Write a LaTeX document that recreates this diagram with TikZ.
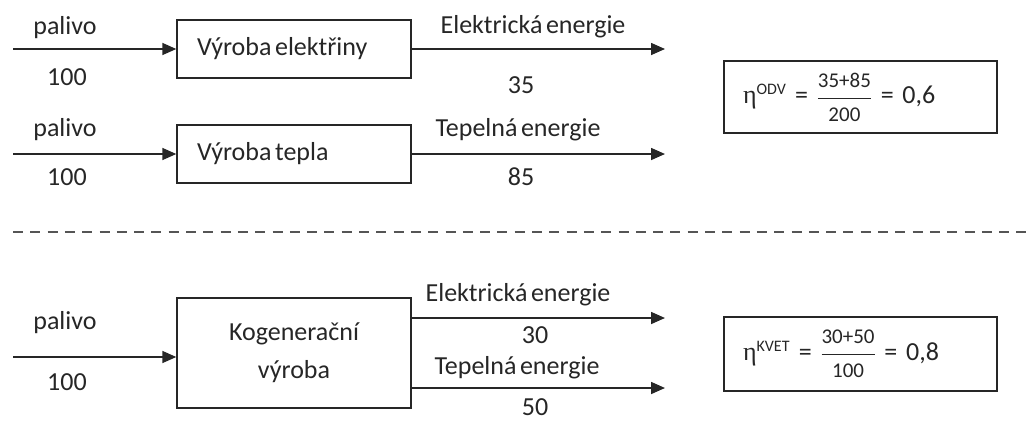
\documentclass[tikz,border=0pt]{standalone}
\usepackage{fontspec}
\setmainfont{Carlito}[WordSpace=0.6]
\newfontfamily\grkfont{Liberation Serif}
\usetikzlibrary{arrows.meta}
\definecolor{ink}{HTML}{262626}
\definecolor{sep}{HTML}{555555}
\newcommand\basefont{\fontsize{26}{30}\selectfont}
% box caption, lifted slightly and set with the font's own word space
\newcommand\boxcaption[1]{\raisebox{3pt}{\spaceskip=0pt\xspaceskip=0pt\relax #1}}
\tikzset{
  every node/.style={text=ink, font=\basefont},
  procbox/.style={draw=ink, line width=1.4pt, minimum width=234pt, inner sep=0pt},
  leftbox/.style={procbox, text width=194pt, align=left, inner xsep=20pt},
  eqbox/.style={draw=ink, line width=1.4pt, minimum width=273pt, minimum height=72pt,
                text width=235pt, align=left, inner xsep=19pt, inner ysep=0pt},
  flow/.style={draw=ink, line width=1.6pt, -{Triangle[length=14pt,width=12pt]}},
  lbl/.style={inner sep=0pt},
}
\newcommand\smallnum{\fontsize{21}{24}\selectfont}
\newcommand\supfont{\fontsize{16}{18}\selectfont}
\newcommand\effrac[2]{$\displaystyle\frac{\mbox{\smallnum #1}}{\mbox{\smallnum #2}}$}
\begin{document}
\begin{tikzpicture}[x=1pt, y=-1pt]
  \useasboundingbox (0,0) rectangle (1031,421);

  % separate production: electricity
  \node[leftbox, minimum height=58pt] (be) at (294,49) {\boxcaption{Výroba elektřiny}};
  \coordinate (ina) at (13,49);
  \coordinate (outa) at (665,49);
  \draw[flow] (ina) -- (be.west);
  \draw[flow] (be.east) -- (outa);
  \node[lbl] (pa) at (65,28) {palivo};
  \node[lbl] (na) at (67,77) {100};
  \node[lbl] (ea) at (533,27) {Elektrická energie};
  \node[lbl] (va) at (521,85) {35};

  % separate production: heat
  \node[leftbox, minimum height=58pt] (bt) at (294,154) {\boxcaption{Výroba tepla}};
  \coordinate (inb) at (13,154);
  \coordinate (outb) at (665,154);
  \draw[flow] (inb) -- (bt.west);
  \draw[flow] (bt.east) -- (outb);
  \node[lbl] (pb) at (65,130) {palivo};
  \node[lbl] (nb) at (67,177) {100};
  \node[lbl] (tb) at (518,130) {Tepelná energie};
  \node[lbl] (vb) at (521,177) {85};

  % efficiency of separate production
  \node[eqbox] (eq1) at (860.5,97)
    {{\grkfont η}\textsuperscript{\supfont ODV} = \effrac{35+85}{200} = 0,6};

  % separator
  \draw[sep, line width=2.4pt, dash pattern=on 10pt off 7.3pt] (13,232) -- (1031,232);

  % cogeneration
  \node[procbox, minimum height=110pt] (kv) at (294,353)
    {\raisebox{20pt}{\parbox{200pt}{\centering\fontsize{26}{38}\selectfont Kogenerační\\ výroba}}};
  \coordinate (inc) at (13,357);
  \coordinate (outc) at (665,318);
  \coordinate (outd) at (665,388);
  \draw[flow] (inc) -- (inc -| kv.west);
  \draw[flow] (kv.east |- outc) -- (outc);
  \draw[flow] (kv.east |- outd) -- (outd);
  \node[lbl] (pc) at (65,323) {palivo};
  \node[lbl] (nc) at (67,382) {100};
  \node[lbl] (ec) at (518,295) {Elektrická energie};
  \node[lbl] (vc) at (535,335) {30};
  \node[lbl] (tc) at (517,368) {Tepelná energie};
  \node[lbl] (vd) at (535,407) {50};

  % efficiency of cogeneration
  \node[eqbox, minimum height=74pt] (eq2) at (860.5,354)
    {{\grkfont η}\textsuperscript{\supfont KVET} = \effrac{30+50}{100} = 0,8};
\end{tikzpicture}
\end{document}
